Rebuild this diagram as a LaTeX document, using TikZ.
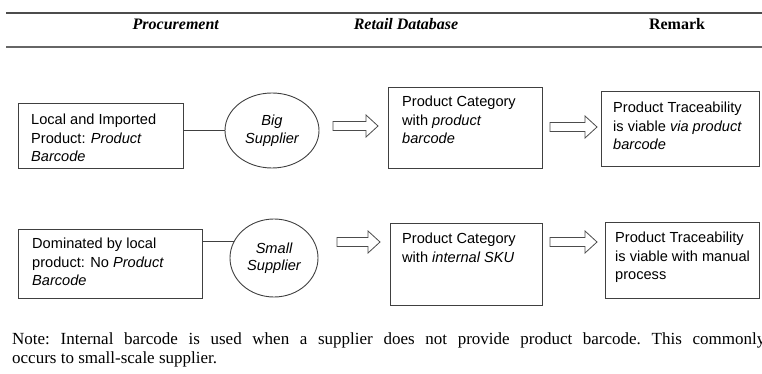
\documentclass[tikz,border=0pt]{standalone}
\usepackage{fontspec}
\setmainfont{Liberation Serif}
\newfontfamily\arialf{Liberation Sans}
\usetikzlibrary{shapes.geometric}
\newcommand\blockarr[3]{%
  \draw[barrow] (#1,#3-4.5) -- (#2-12,#3-4.5) -- (#2-12,#3-11) -- (#2,#3)
    -- (#2-12,#3+11) -- (#2-12,#3+4.5) -- (#1,#3+4.5) -- cycle;}
\begin{document}
\begin{tikzpicture}[x=1pt,y=-1pt,
  box/.style={draw=black!75, line width=0.9pt, rectangle, inner sep=0pt, anchor=north west},
  oval/.style={draw=black!75, line width=0.9pt, ellipse, inner sep=0pt, align=center,
    font=\arialf\itshape\fontsize{14.6}{17.5}\selectfont},
  btext/.style={anchor=north west, inner sep=0pt, align=left,
    font=\arialf\fontsize{14.6}{18.5}\selectfont},
  hdr/.style={font=\fontsize{16}{19}\selectfont\bfseries, inner sep=0pt},
  rulel/.style={draw=black!70, line width=1.3pt},
  link/.style={draw=black!75, line width=0.9pt},
  barrow/.style={draw=black!70, line width=0.8pt, fill=white}]
\useasboundingbox (0,0) rectangle (762,374);
% header
\draw[rulel] (6,13) -- (762,13);
\draw[rulel, line width=1.7pt, draw=black!60] (6,47) -- (762,47);
\node[hdr] (h1) at (176,24) {\textit{Procurement}};
\node[hdr] (h2) at (406,24) {\textit{Retail Database}};
\node[hdr] (h3) at (677,24) {Remark};
% row 1
\node[box, minimum width=165pt, minimum height=65pt] (b1) at (18,103) {};
\node[btext] (t1) at (31,114) {Local and Imported\\Product: \textit{Product}\\\textit{Barcode}};
\node[oval, minimum width=94pt, minimum height=75pt] (e1) at (272,130.5) {Big\\Supplier};
\draw[link] (e1.west) -- (e1.west -| b1.east);
\node[box, minimum width=154pt, minimum height=81pt] (b2) at (388,87) {};
\node[btext] (t2) at (402,96) {Product Category\\with \textit{product}\\\textit{barcode}};
\node[box, minimum width=158pt, minimum height=75pt] (b3) at (601,91) {};
\node[btext] (t3) at (613,102) {Product Traceability\\is viable \textit{via product}\\\textit{barcode}};
\blockarr{333}{378}{126}
\blockarr{550}{597}{127}
% row 2
\node[box, minimum width=184pt, minimum height=69pt] (b4) at (18,229) {};
\node[btext] (t4) at (32,238) {Dominated by local\\product: No \textit{Product}\\\textit{Barcode}};
\node[oval, minimum width=88pt, minimum height=78pt] (e2) at (274,258) {Small\\Supplier};
\draw[link] (e2.158) -- (e2.158 -| b4.east);
\node[box, minimum width=152pt, minimum height=82pt] (b5) at (390,223) {};
\node[btext] (t5) at (402,233) {Product Category\\with \textit{internal SKU}};
\node[box, minimum width=154pt, minimum height=76pt] (b6) at (605,222) {};
\node[btext] (t6) at (615,232) {Product Traceability\\is viable with manual\\process};
\blockarr{337}{380}{242}
\blockarr{550}{597}{242}
% note
\node[anchor=north west, inner sep=0pt, text width=753pt, align=justify,
  font=\fontsize{17}{19}\selectfont] (note) at (12,333)
  {\frenchspacing Note: Internal barcode is used when a supplier does not provide product barcode. This commonly\linebreak occurs to small-scale supplier.};
\end{tikzpicture}
\end{document}
